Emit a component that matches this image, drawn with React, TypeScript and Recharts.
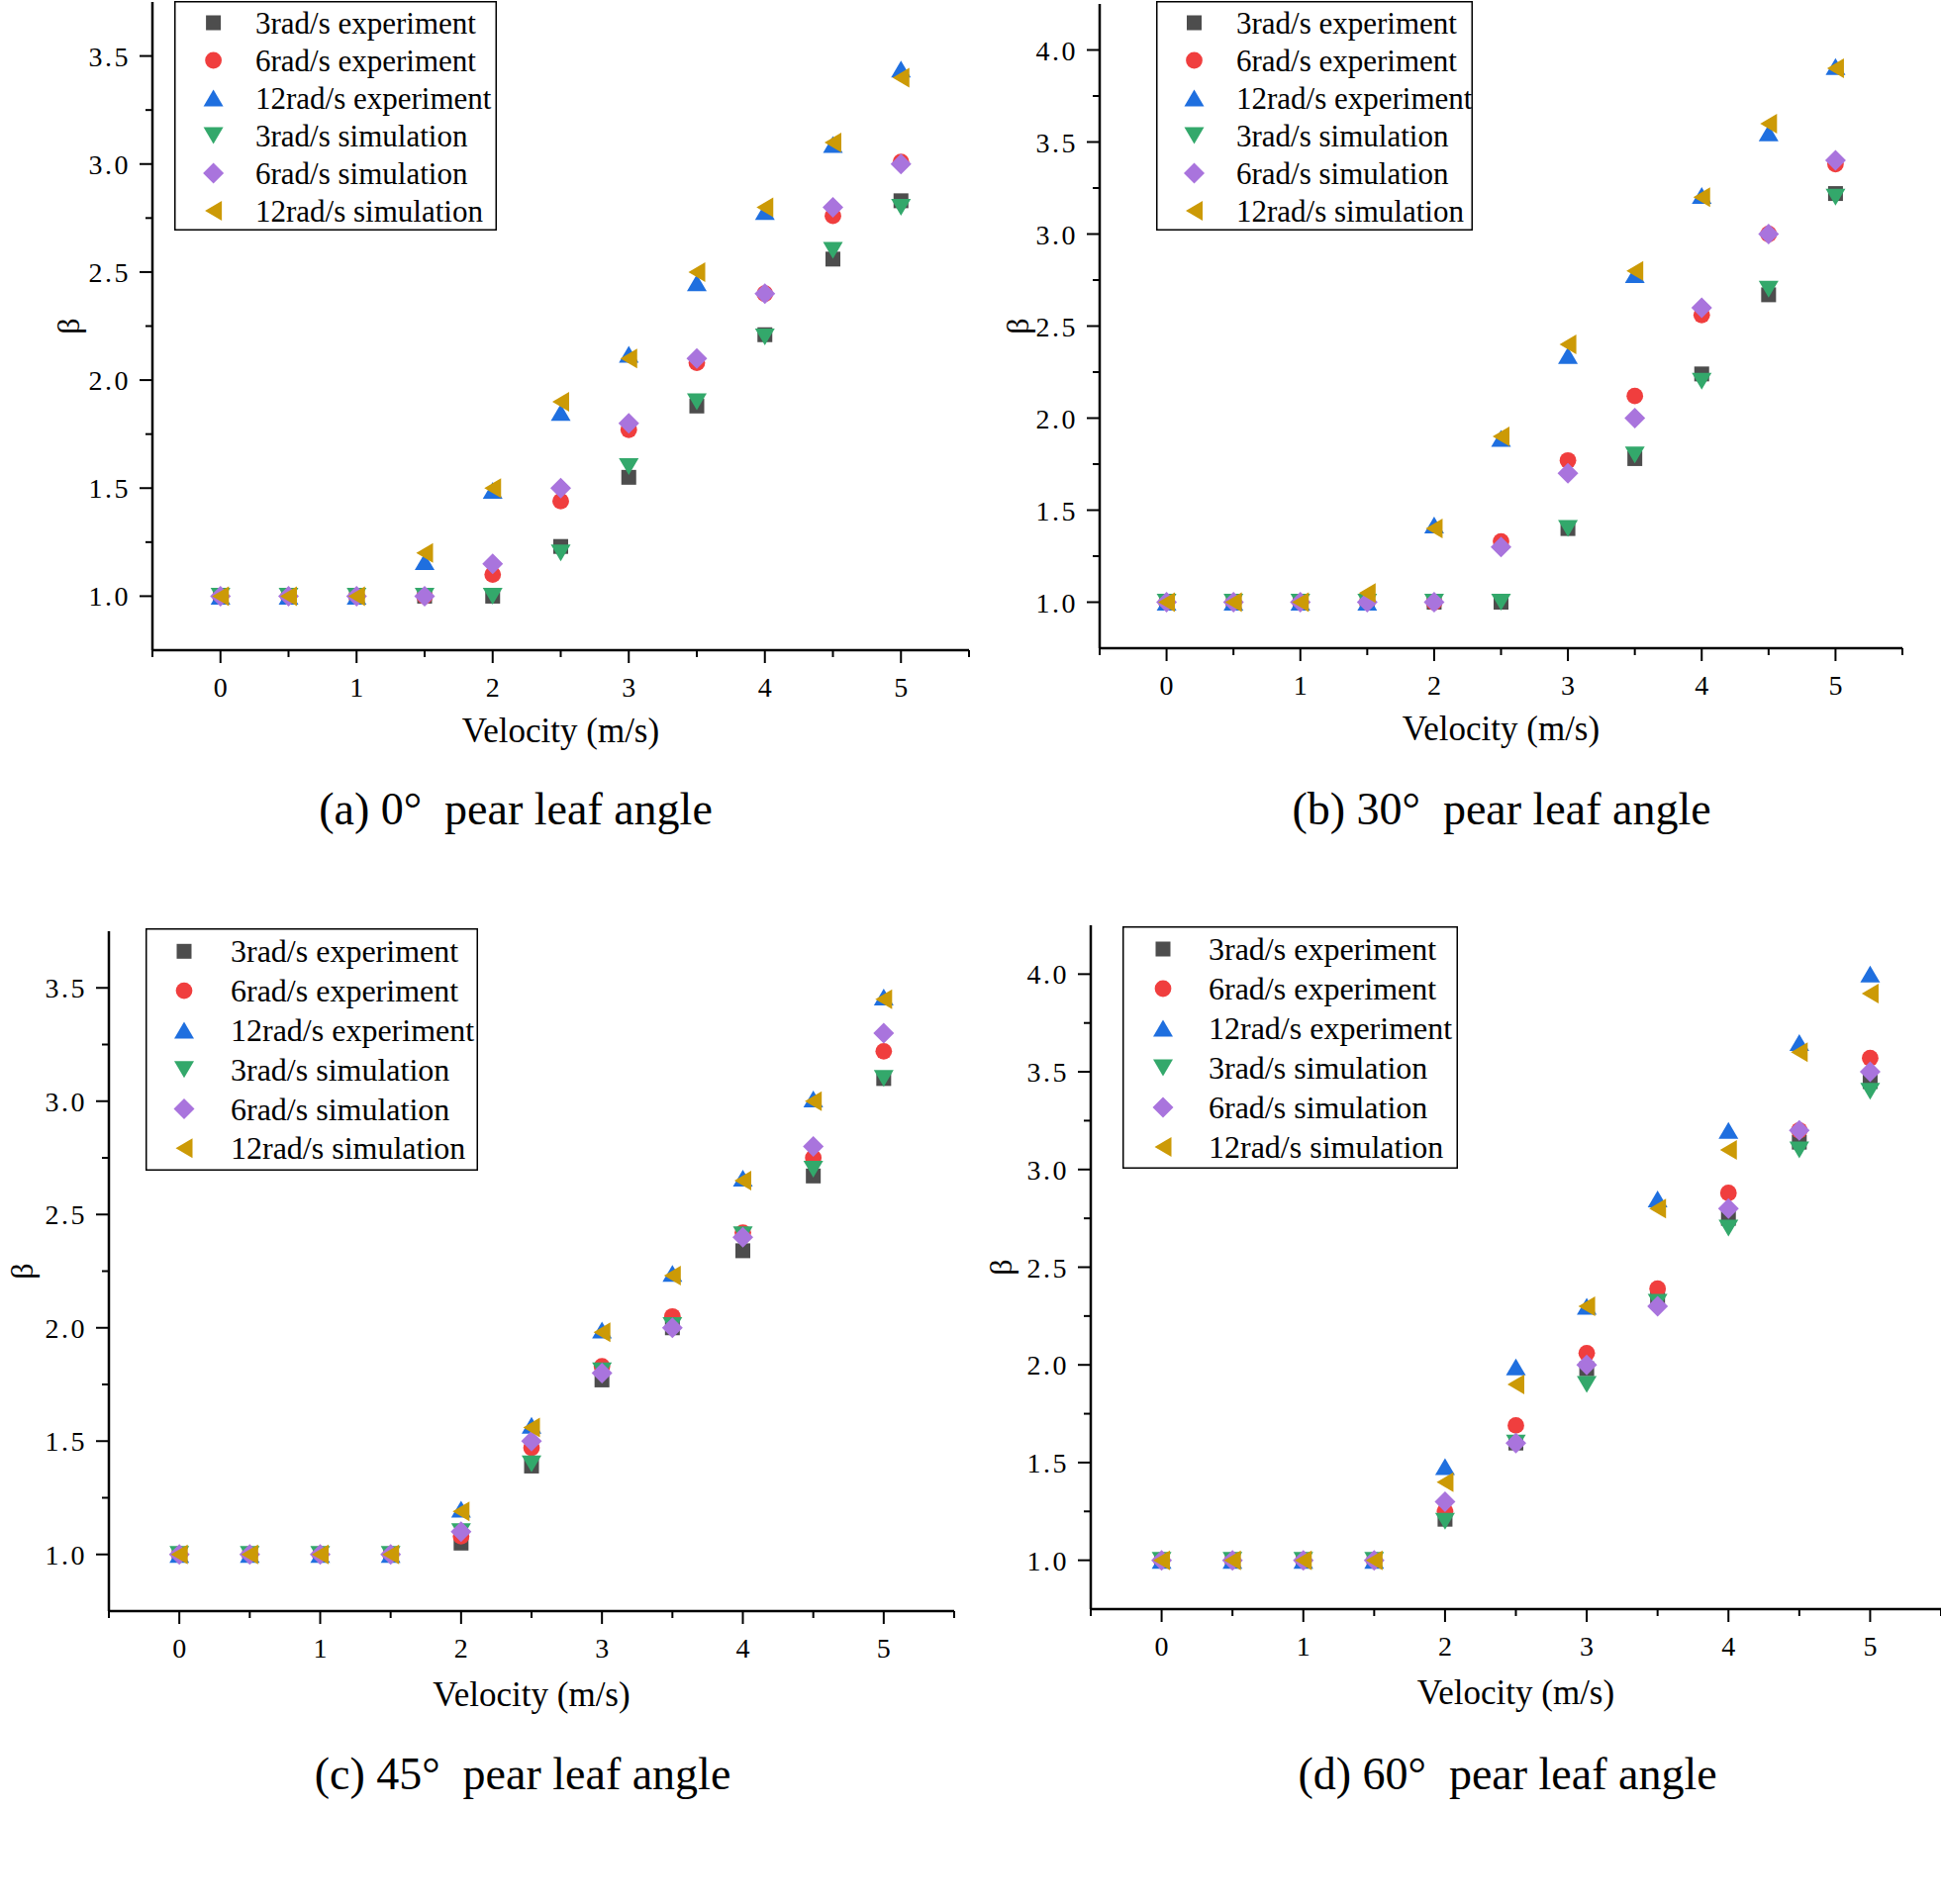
import React from 'react';
import { ScatterChart, Scatter, XAxis, YAxis, Legend } from 'recharts';

const FONT = '"Liberation Serif", "Times New Roman", serif';

// Shared x values (velocity, m/s)
const velocity = [0, 0.5, 1, 1.5, 2, 2.5, 3, 3.5, 4, 4.5, 5];

// (a) 0° pear leaf angle
const a3Exp = [1, 1, 1, 1, 1, 1.23, 1.55, 1.88, 2.21, 2.56, 2.83];
const a6Exp = [1, 1, 1, 1, 1.1, 1.44, 1.77, 2.08, 2.4, 2.76, 3.01];
const a12Exp = [1, 1, 1, 1.16, 1.49, 1.85, 2.12, 2.45, 2.78, 3.09, 3.44];
const a3Sim = [1, 1, 1, 1, 1, 1.2, 1.6, 1.9, 2.2, 2.6, 2.8];
const a6Sim = [1, 1, 1, 1, 1.15, 1.5, 1.8, 2.1, 2.4, 2.8, 3.0];
const a12Sim = [1, 1, 1, 1.2, 1.5, 1.9, 2.1, 2.5, 2.8, 3.1, 3.4];

// (b) 30° pear leaf angle
const b3Exp = [1, 1, 1, 1, 1, 1, 1.4, 1.78, 2.24, 2.67, 3.22];
const b6Exp = [1, 1, 1, 1, 1, 1.33, 1.77, 2.12, 2.56, 3.0, 3.38];
const b12Exp = [1, 1, 1, 1, 1.42, 1.89, 2.34, 2.78, 3.21, 3.55, 3.91];
const b3Sim = [1, 1, 1, 1, 1, 1, 1.4, 1.8, 2.2, 2.7, 3.2];
const b6Sim = [1, 1, 1, 1, 1, 1.3, 1.7, 2.0, 2.6, 3.0, 3.4];
const b12Sim = [1, 1, 1, 1.05, 1.4, 1.9, 2.4, 2.8, 3.2, 3.6, 3.9];

// (c) 45° pear leaf angle
const c3Exp = [1, 1, 1, 1, 1.05, 1.39, 1.77, 2.0, 2.34, 2.67, 3.1];
const c6Exp = [1, 1, 1, 1, 1.08, 1.47, 1.83, 2.05, 2.42, 2.75, 3.22];
const c12Exp = [1, 1, 1, 1, 1.2, 1.57, 1.99, 2.24, 2.66, 3.01, 3.46];
const c3Sim = [1, 1, 1, 1, 1.1, 1.4, 1.81, 2.01, 2.41, 2.7, 3.1];
const c6Sim = [1, 1, 1, 1, 1.1, 1.5, 1.8, 2.0, 2.4, 2.8, 3.3];
const c12Sim = [1, 1, 1, 1, 1.19, 1.56, 1.98, 2.23, 2.65, 3.0, 3.45];

// (d) 60° pear leaf angle
const d3Exp = [1, 1, 1, 1, 1.21, 1.6, 1.98, 2.35, 2.75, 3.14, 3.45];
const d6Exp = [1, 1, 1, 1, 1.25, 1.69, 2.06, 2.39, 2.88, 3.2, 3.57];
const d12Exp = [1, 1, 1, 1, 1.48, 1.99, 2.3, 2.85, 3.2, 3.65, 4.0];
const d3Sim = [1, 1, 1, 1, 1.2, 1.6, 1.9, 2.32, 2.7, 3.1, 3.4];
const d6Sim = [1, 1, 1, 1, 1.3, 1.6, 2.0, 2.3, 2.8, 3.2, 3.5];
const d12Sim = [1, 1, 1, 1, 1.4, 1.9, 2.3, 2.8, 3.1, 3.6, 3.9];

const seriesNames = [
  '3rad/s experiment',
  '6rad/s experiment',
  '12rad/s experiment',
  '3rad/s simulation',
  '6rad/s simulation',
  '12rad/s simulation',
];
const seriesColors = ['#4D4D4D', '#F03E3E', '#1F6FDF', '#33A86B', '#A974DD', '#CC9A06'];
const seriesShapes = ['square', 'circle', 'triangleUp', 'triangleDown', 'diamond', 'triangleLeft'];

const xTicks = [-0.5, 0, 0.5, 1, 1.5, 2, 2.5, 3, 3.5, 4, 4.5, 5, 5.5];
const yTicksLow = [1.0, 1.25, 1.5, 1.75, 2.0, 2.25, 2.5, 2.75, 3.0, 3.25, 3.5];
const yTicksHigh = [1.0, 1.25, 1.5, 1.75, 2.0, 2.25, 2.5, 2.75, 3.0, 3.25, 3.5, 3.75, 4.0];

const xLabel = 'Velocity (m/s)';
const yLabel = 'β';
const captions = [
  '(a) 0°  pear leaf angle',
  '(b) 30°  pear leaf angle',
  '(c) 45°  pear leaf angle',
  '(d) 60°  pear leaf angle',
];

const panelSeries = [
  [a3Exp, a6Exp, a12Exp, a3Sim, a6Sim, a12Sim],
  [b3Exp, b6Exp, b12Exp, b3Sim, b6Sim, b12Sim],
  [c3Exp, c6Exp, c12Exp, c3Sim, c6Sim, c12Sim],
  [d3Exp, d6Exp, d12Exp, d3Sim, d6Sim, d12Sim],
];

const XH = 120;

// Layout (positions / sizes only)
const panels = [
  {
    left: 0, top: 0, width: 1000, height: 2 + 655 + XH, mTop: 2, mRight: 21, yw: 154,
    yDomain: [0.75, 3.75], yTicks: yTicksLow,
    lg: { x: 176, y: 1, w: 326, h: 232, symX: 39.6, textX: 82, row0: 22, step: 38, fs: 31 },
    betaX: 69, velOffset: 27, cap: { cx: 521, cy: 822 },
  },
  {
    left: 980, top: 0, width: 981, height: 4 + 651 + XH, mTop: 4, mRight: 39, yw: 131,
    yDomain: [0.75, 4.25], yTicks: yTicksHigh,
    lg: { x: 188, y: 1, w: 320, h: 232, symX: 38.5, textX: 81, row0: 22, step: 38, fs: 31 },
    betaX: 48, velOffset: 27, cap: { cx: 1517, cy: 822 },
  },
  {
    left: 0, top: 900, width: 1000, height: 41 + 687 + XH, mTop: 41, mRight: 36, yw: 110,
    yDomain: [0.75, 3.75], yTicks: yTicksLow,
    lg: { x: 147, y: 38, w: 336, h: 245, symX: 39, textX: 86, row0: 23.3, step: 39.8, fs: 32 },
    betaX: 22, velOffset: 24, cap: { cx: 528, cy: 1797 },
  },
  {
    left: 980, top: 900, width: 981, height: 35 + 691 + XH, mTop: 35, mRight: 0, yw: 122,
    yDomain: [0.75, 4.25], yTicks: yTicksHigh,
    lg: { x: 154, y: 36, w: 339, h: 245, symX: 41, textX: 87, row0: 23, step: 40, fs: 32 },
    betaX: 31, velOffset: 24, cap: { cx: 1523, cy: 1797 },
  },
];

const TSX = 13, TMX = 15;
const TSY = 13, TMY = 9;

function Marker({ kind, cx, cy, color }: { kind: string; cx: number; cy: number; color: string }) {
  if (cx == null || cy == null || isNaN(cx) || isNaN(cy)) return null;
  switch (kind) {
    case 'square':
      return <rect x={cx - 7.5} y={cy - 7.5} width={15} height={15} fill={color} />;
    case 'circle':
      return <circle cx={cx} cy={cy} r={8.4} fill={color} />;
    case 'triangleUp':
      return <polygon points={`${cx},${cy - 8.5} ${cx + 10},${cy + 8.5} ${cx - 10},${cy + 8.5}`} fill={color} />;
    case 'triangleDown':
      return <polygon points={`${cx - 10},${cy - 8.5} ${cx + 10},${cy - 8.5} ${cx},${cy + 8.5}`} fill={color} />;
    case 'diamond':
      return <polygon points={`${cx},${cy - 10.5} ${cx + 10.5},${cy} ${cx},${cy + 10.5} ${cx - 10.5},${cy}`} fill={color} />;
    case 'triangleLeft':
      return <polygon points={`${cx - 8.5},${cy} ${cx + 8.5},${cy - 10} ${cx + 8.5},${cy + 10}`} fill={color} />;
    default:
      return null;
  }
}

const XTick = (props: any) => {
  const { x, y, payload } = props;
  const v = payload.value as number;
  const axisY = y - TSX - TMX;
  const major = Math.abs(v - Math.round(v)) < 1e-6;
  return (
    <g>
      <line x1={x} x2={x} y1={axisY} y2={axisY + (major ? 13 : 7)} stroke="#000" strokeWidth={2} />
      {major && (
        <text x={x} y={axisY + 47} textAnchor="middle" fontFamily={FONT} fontSize={28} fill="#000">
          {String(v)}
        </text>
      )}
    </g>
  );
};

const YTick = (props: any) => {
  const { x, y, payload } = props;
  const v = payload.value as number;
  const axisX = x + TSY + TMY;
  const major = Math.abs(v * 2 - Math.round(v * 2)) < 1e-6;
  return (
    <g>
      <line x1={axisX} x2={axisX - (major ? 13 : 7)} y1={y} y2={y} stroke="#000" strokeWidth={2} />
      {major && (
        <text x={axisX - 22} y={y + 10} textAnchor="end" fontFamily={FONT} fontSize={28} letterSpacing={2.5} fill="#000">
          {v.toFixed(1)}
        </text>
      )}
    </g>
  );
};

function LegendBox({ lg }: { lg: any }) {
  return (
    <svg width={lg.w} height={lg.h} style={{ display: 'block', overflow: 'visible' }}>
      <rect x={0.75} y={0.75} width={lg.w - 1.5} height={lg.h - 1.5} fill="#fff" stroke="#000" strokeWidth={1.5} />
      {seriesNames.map((name, i) => {
        const cy = lg.row0 + i * lg.step;
        return (
          <g key={name}>
            <Marker kind={seriesShapes[i]} cx={lg.symX} cy={cy} color={seriesColors[i]} />
            <text x={lg.textX} y={cy} dominantBaseline="central" fontFamily={FONT} fontSize={lg.fs} fill="#000">
              {name}
            </text>
          </g>
        );
      })}
    </svg>
  );
}

function Panel({ idx }: { idx: number }) {
  const p = panels[idx];
  const series = panelSeries[idx];
  const betaContent = (lp: any) => {
    const vb = lp.viewBox || { x: 0, y: p.mTop, height: p.height - p.mTop - XH };
    const cx = (vb.x || 0) + p.betaX;
    const cy = vb.y + vb.height / 2;
    return (
      <text
        x={cx}
        y={cy}
        transform={`rotate(-90 ${cx} ${cy})`}
        textAnchor="middle"
        dominantBaseline="central"
        fontFamily={FONT}
        fontSize={32}
        fill="#000"
      >
        {yLabel}
      </text>
    );
  };
  return (
    <div style={{ position: 'absolute', left: p.left, top: p.top }}>
      <ScatterChart
        width={p.width}
        height={p.height}
        margin={{ top: p.mTop, right: p.mRight, left: 0, bottom: 0 }}
      >
        <XAxis
          type="number"
          dataKey="x"
          domain={[-0.5, 5.5]}
          ticks={xTicks}
          interval={0}
          allowDataOverflow
          height={XH}
          tickSize={TSX}
          tickMargin={TMX}
          tickLine={false}
          tick={XTick}
          axisLine={{ stroke: '#000', strokeWidth: 2.5 }}
          label={{
            value: xLabel,
            position: 'insideBottom',
            offset: p.velOffset,
            fontSize: 35,
            fontFamily: FONT,
            fill: '#000',
          }}
        />
        <YAxis
          type="number"
          dataKey="y"
          domain={p.yDomain}
          ticks={p.yTicks}
          interval={0}
          allowDataOverflow
          width={p.yw}
          tickSize={TSY}
          tickMargin={TMY}
          tickLine={false}
          tick={YTick}
          axisLine={{ stroke: '#000', strokeWidth: 2.5 }}
          label={{ value: yLabel, content: betaContent }}
        />
        <Legend
          layout="vertical"
          align="center"
          verticalAlign="middle"
          wrapperStyle={{
            left: p.lg.x,
            top: p.lg.y,
            right: 'auto',
            bottom: 'auto',
            width: p.lg.w,
            height: p.lg.h,
          }}
          content={() => <LegendBox lg={p.lg} />}
        />
        {series.map((vals, si) => (
          <Scatter
            key={seriesNames[si]}
            name={seriesNames[si]}
            data={velocity.map((v, i) => ({ x: v, y: vals[i] }))}
            fill={seriesColors[si]}
            isAnimationActive={false}
            shape={(sp: any) => <Marker kind={seriesShapes[si]} cx={sp.cx} cy={sp.cy} color={seriesColors[si]} />}
          />
        ))}
      </ScatterChart>
    </div>
  );
}

export default function App() {
  return (
    <div
      style={{
        position: 'absolute',
        left: 0,
        top: 0,
        width: 1961,
        height: 1924,
        background: '#fff',
        overflow: 'hidden',
        fontFamily: FONT,
      }}
    >
      {panels.map((_, i) => (
        <Panel key={i} idx={i} />
      ))}
      {panels.map((p, i) => (
        <div
          key={'cap' + i}
          style={{
            position: 'absolute',
            left: p.cap.cx - 300,
            top: p.cap.cy - 35,
            width: 600,
            lineHeight: '62px',
            height: 62,
            textAlign: 'center',
            whiteSpace: 'pre',
            fontFamily: FONT,
            fontSize: 46,
            color: '#000',
          }}
        >
          {captions[i]}
        </div>
      ))}
    </div>
  );
}
